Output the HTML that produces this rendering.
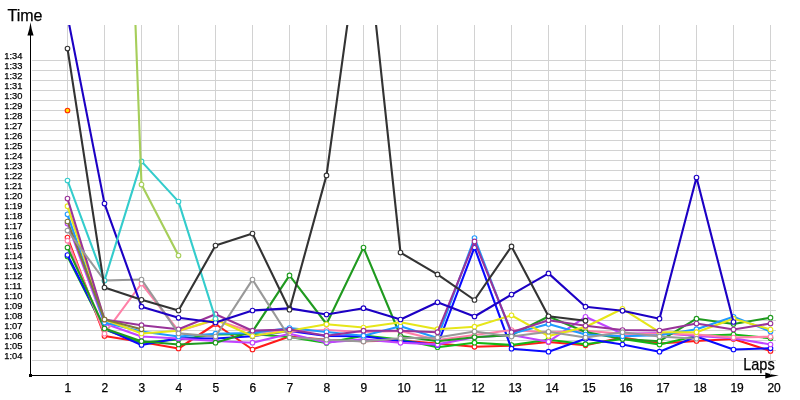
<!DOCTYPE html>
<html><head><meta charset="utf-8"><title>Lap times</title>
<style>
html,body{margin:0;padding:0;background:#fff;}
body{width:800px;height:400px;overflow:hidden;}
svg{display:block;}
text{font-family:"Liberation Sans","DejaVu Sans",sans-serif;fill:#000;stroke:#000;stroke-width:0.25;}
.g line{stroke:#d2d2d2;stroke-width:1;shape-rendering:crispEdges;}
.s polyline{fill:none;stroke-width:2.1;stroke-linejoin:round;stroke-linecap:round;}
.s circle{stroke-width:1.1;}
</style></head><body>
<svg width="800" height="400" viewBox="0 0 800 400">
<defs><clipPath id="c"><rect x="31" y="25" width="760" height="350"/></clipPath></defs>
<rect width="800" height="400" fill="#fff"/>
<g class="g">
<line x1="32" y1="60.5" x2="776" y2="60.5"/>
<line x1="32" y1="70.5" x2="776" y2="70.5"/>
<line x1="32" y1="80.5" x2="776" y2="80.5"/>
<line x1="32" y1="90.5" x2="776" y2="90.5"/>
<line x1="32" y1="100.5" x2="776" y2="100.5"/>
<line x1="32" y1="110.5" x2="776" y2="110.5"/>
<line x1="32" y1="120.5" x2="776" y2="120.5"/>
<line x1="32" y1="130.5" x2="776" y2="130.5"/>
<line x1="32" y1="140.5" x2="776" y2="140.5"/>
<line x1="32" y1="150.5" x2="776" y2="150.5"/>
<line x1="32" y1="160.5" x2="776" y2="160.5"/>
<line x1="32" y1="170.5" x2="776" y2="170.5"/>
<line x1="32" y1="180.5" x2="776" y2="180.5"/>
<line x1="32" y1="190.5" x2="776" y2="190.5"/>
<line x1="32" y1="200.5" x2="776" y2="200.5"/>
<line x1="32" y1="210.5" x2="776" y2="210.5"/>
<line x1="32" y1="220.5" x2="776" y2="220.5"/>
<line x1="32" y1="230.5" x2="776" y2="230.5"/>
<line x1="32" y1="240.5" x2="776" y2="240.5"/>
<line x1="32" y1="250.5" x2="776" y2="250.5"/>
<line x1="32" y1="260.5" x2="776" y2="260.5"/>
<line x1="32" y1="270.5" x2="776" y2="270.5"/>
<line x1="32" y1="280.5" x2="776" y2="280.5"/>
<line x1="32" y1="290.5" x2="776" y2="290.5"/>
<line x1="32" y1="300.5" x2="776" y2="300.5"/>
<line x1="32" y1="310.5" x2="776" y2="310.5"/>
<line x1="32" y1="320.5" x2="776" y2="320.5"/>
<line x1="32" y1="330.5" x2="776" y2="330.5"/>
<line x1="32" y1="340.5" x2="776" y2="340.5"/>
<line x1="32" y1="350.5" x2="776" y2="350.5"/>
<line x1="32" y1="360.5" x2="776" y2="360.5"/>
<line x1="67.5" y1="25" x2="67.5" y2="375"/>
<line x1="104.5" y1="25" x2="104.5" y2="375"/>
<line x1="141.5" y1="25" x2="141.5" y2="375"/>
<line x1="178.5" y1="25" x2="178.5" y2="375"/>
<line x1="215.5" y1="25" x2="215.5" y2="375"/>
<line x1="252.5" y1="25" x2="252.5" y2="375"/>
<line x1="289.5" y1="25" x2="289.5" y2="375"/>
<line x1="326.5" y1="25" x2="326.5" y2="375"/>
<line x1="363.5" y1="25" x2="363.5" y2="375"/>
<line x1="400.5" y1="25" x2="400.5" y2="375"/>
<line x1="437.5" y1="25" x2="437.5" y2="375"/>
<line x1="474.5" y1="25" x2="474.5" y2="375"/>
<line x1="511.5" y1="25" x2="511.5" y2="375"/>
<line x1="548.5" y1="25" x2="548.5" y2="375"/>
<line x1="585.5" y1="25" x2="585.5" y2="375"/>
<line x1="622.5" y1="25" x2="622.5" y2="375"/>
<line x1="659.5" y1="25" x2="659.5" y2="375"/>
<line x1="696.5" y1="25" x2="696.5" y2="375"/>
<line x1="733.5" y1="25" x2="733.5" y2="375"/>
<line x1="770.5" y1="25" x2="770.5" y2="375"/>
</g>
<g class="s" clip-path="url(#c)">
<g stroke="#ff1a1a">
<polyline points="67.5,237.5 104.5,336.0 141.5,342.0 178.5,348.5 215.5,324.0 252.5,349.5 289.5,336.5 326.5,339.7 363.5,341.3 400.5,340.5 437.5,343.5 474.5,346.8 511.5,345.7 548.5,342.0 585.5,345.3 622.5,337.5 659.5,343.5 696.5,341.0 733.5,339.0 770.5,351.0"/>
<circle cx="67.5" cy="237.5" r="2.3" fill="#fff" stroke="#ff1a1a"/>
<circle cx="104.5" cy="336.0" r="2.3" fill="#fff" stroke="#ff1a1a"/>
<circle cx="141.5" cy="342.0" r="2.3" fill="#fff" stroke="#ff1a1a"/>
<circle cx="178.5" cy="348.5" r="2.3" fill="#fff" stroke="#ff1a1a"/>
<circle cx="215.5" cy="324.0" r="2.3" fill="#fff" stroke="#ff1a1a"/>
<circle cx="252.5" cy="349.5" r="2.3" fill="#fff" stroke="#ff1a1a"/>
<circle cx="289.5" cy="336.5" r="2.3" fill="#fff" stroke="#ff1a1a"/>
<circle cx="326.5" cy="339.7" r="2.3" fill="#fff" stroke="#ff1a1a"/>
<circle cx="363.5" cy="341.3" r="2.3" fill="#fff" stroke="#ff1a1a"/>
<circle cx="400.5" cy="340.5" r="2.3" fill="#fff" stroke="#ff1a1a"/>
<circle cx="437.5" cy="343.5" r="2.3" fill="#fff" stroke="#ff1a1a"/>
<circle cx="474.5" cy="346.8" r="2.3" fill="#fff" stroke="#ff1a1a"/>
<circle cx="511.5" cy="345.7" r="2.3" fill="#fff" stroke="#ff1a1a"/>
<circle cx="548.5" cy="342.0" r="2.3" fill="#fff" stroke="#ff1a1a"/>
<circle cx="585.5" cy="345.3" r="2.3" fill="#fff" stroke="#ff1a1a"/>
<circle cx="622.5" cy="337.5" r="2.3" fill="#fff" stroke="#ff1a1a"/>
<circle cx="659.5" cy="343.5" r="2.3" fill="#fff" stroke="#ff1a1a"/>
<circle cx="696.5" cy="341.0" r="2.3" fill="#fff" stroke="#ff1a1a"/>
<circle cx="733.5" cy="339.0" r="2.3" fill="#fff" stroke="#ff1a1a"/>
<circle cx="770.5" cy="351.0" r="2.3" fill="#fff" stroke="#ff1a1a"/>
</g>
<g stroke="#14b814">
<polyline points="67.5,256.5 104.5,329.5 141.5,342.5 178.5,339.5 215.5,334.5 252.5,334.0 289.5,337.0 326.5,343.0 363.5,335.6 400.5,339.5 437.5,347.2 474.5,342.7 511.5,345.0 548.5,339.7 585.5,344.2 622.5,339.0 659.5,344.5 696.5,336.0 733.5,334.5 770.5,338.2"/>
<circle cx="67.5" cy="256.5" r="2.3" fill="#fff" stroke="#14b814"/>
<circle cx="104.5" cy="329.5" r="2.3" fill="#fff" stroke="#14b814"/>
<circle cx="141.5" cy="342.5" r="2.3" fill="#fff" stroke="#14b814"/>
<circle cx="178.5" cy="339.5" r="2.3" fill="#fff" stroke="#14b814"/>
<circle cx="215.5" cy="334.5" r="2.3" fill="#fff" stroke="#14b814"/>
<circle cx="252.5" cy="334.0" r="2.3" fill="#fff" stroke="#14b814"/>
<circle cx="289.5" cy="337.0" r="2.3" fill="#fff" stroke="#14b814"/>
<circle cx="326.5" cy="343.0" r="2.3" fill="#fff" stroke="#14b814"/>
<circle cx="363.5" cy="335.6" r="2.3" fill="#fff" stroke="#14b814"/>
<circle cx="400.5" cy="339.5" r="2.3" fill="#fff" stroke="#14b814"/>
<circle cx="437.5" cy="347.2" r="2.3" fill="#fff" stroke="#14b814"/>
<circle cx="474.5" cy="342.7" r="2.3" fill="#fff" stroke="#14b814"/>
<circle cx="511.5" cy="345.0" r="2.3" fill="#fff" stroke="#14b814"/>
<circle cx="548.5" cy="339.7" r="2.3" fill="#fff" stroke="#14b814"/>
<circle cx="585.5" cy="344.2" r="2.3" fill="#fff" stroke="#14b814"/>
<circle cx="622.5" cy="339.0" r="2.3" fill="#fff" stroke="#14b814"/>
<circle cx="659.5" cy="344.5" r="2.3" fill="#fff" stroke="#14b814"/>
<circle cx="696.5" cy="336.0" r="2.3" fill="#fff" stroke="#14b814"/>
<circle cx="733.5" cy="334.5" r="2.3" fill="#fff" stroke="#14b814"/>
<circle cx="770.5" cy="338.2" r="2.3" fill="#fff" stroke="#14b814"/>
</g>
<g stroke="#0a0aff">
<polyline points="67.5,255.0 104.5,328.5 141.5,345.0 178.5,338.3 215.5,338.5 252.5,336.2 289.5,331.0 326.5,336.0 363.5,336.3 400.5,341.0 437.5,345.0 474.5,247.4 511.5,348.7 548.5,351.7 585.5,338.7 622.5,344.5 659.5,351.7 696.5,336.5 733.5,349.5 770.5,348.3"/>
<circle cx="67.5" cy="255.0" r="2.3" fill="#fff" stroke="#0a0aff"/>
<circle cx="104.5" cy="328.5" r="2.3" fill="#fff" stroke="#0a0aff"/>
<circle cx="141.5" cy="345.0" r="2.3" fill="#fff" stroke="#0a0aff"/>
<circle cx="178.5" cy="338.3" r="2.3" fill="#fff" stroke="#0a0aff"/>
<circle cx="215.5" cy="338.5" r="2.3" fill="#fff" stroke="#0a0aff"/>
<circle cx="252.5" cy="336.2" r="2.3" fill="#fff" stroke="#0a0aff"/>
<circle cx="289.5" cy="331.0" r="2.3" fill="#fff" stroke="#0a0aff"/>
<circle cx="326.5" cy="336.0" r="2.3" fill="#fff" stroke="#0a0aff"/>
<circle cx="363.5" cy="336.3" r="2.3" fill="#fff" stroke="#0a0aff"/>
<circle cx="400.5" cy="341.0" r="2.3" fill="#fff" stroke="#0a0aff"/>
<circle cx="437.5" cy="345.0" r="2.3" fill="#fff" stroke="#0a0aff"/>
<circle cx="474.5" cy="247.4" r="2.3" fill="#fff" stroke="#0a0aff"/>
<circle cx="511.5" cy="348.7" r="2.3" fill="#fff" stroke="#0a0aff"/>
<circle cx="548.5" cy="351.7" r="2.3" fill="#fff" stroke="#0a0aff"/>
<circle cx="585.5" cy="338.7" r="2.3" fill="#fff" stroke="#0a0aff"/>
<circle cx="622.5" cy="344.5" r="2.3" fill="#fff" stroke="#0a0aff"/>
<circle cx="659.5" cy="351.7" r="2.3" fill="#fff" stroke="#0a0aff"/>
<circle cx="696.5" cy="336.5" r="2.3" fill="#fff" stroke="#0a0aff"/>
<circle cx="733.5" cy="349.5" r="2.3" fill="#fff" stroke="#0a0aff"/>
<circle cx="770.5" cy="348.3" r="2.3" fill="#fff" stroke="#0a0aff"/>
</g>
<g stroke="#c044ff">
<polyline points="67.5,223.5 104.5,323.5 141.5,336.5 178.5,338.5 215.5,341.0 252.5,342.7 289.5,333.7 326.5,342.5 363.5,339.4 400.5,342.8 437.5,344.4 474.5,337.2 511.5,335.0 548.5,341.7 585.5,316.8 622.5,333.7 659.5,333.0 696.5,336.0 733.5,338.2 770.5,344.5"/>
<circle cx="67.5" cy="223.5" r="2.3" fill="#fff" stroke="#c044ff"/>
<circle cx="104.5" cy="323.5" r="2.3" fill="#fff" stroke="#c044ff"/>
<circle cx="141.5" cy="336.5" r="2.3" fill="#fff" stroke="#c044ff"/>
<circle cx="178.5" cy="338.5" r="2.3" fill="#fff" stroke="#c044ff"/>
<circle cx="215.5" cy="341.0" r="2.3" fill="#fff" stroke="#c044ff"/>
<circle cx="252.5" cy="342.7" r="2.3" fill="#fff" stroke="#c044ff"/>
<circle cx="289.5" cy="333.7" r="2.3" fill="#fff" stroke="#c044ff"/>
<circle cx="326.5" cy="342.5" r="2.3" fill="#fff" stroke="#c044ff"/>
<circle cx="363.5" cy="339.4" r="2.3" fill="#fff" stroke="#c044ff"/>
<circle cx="400.5" cy="342.8" r="2.3" fill="#fff" stroke="#c044ff"/>
<circle cx="437.5" cy="344.4" r="2.3" fill="#fff" stroke="#c044ff"/>
<circle cx="474.5" cy="337.2" r="2.3" fill="#fff" stroke="#c044ff"/>
<circle cx="511.5" cy="335.0" r="2.3" fill="#fff" stroke="#c044ff"/>
<circle cx="548.5" cy="341.7" r="2.3" fill="#fff" stroke="#c044ff"/>
<circle cx="585.5" cy="316.8" r="2.3" fill="#fff" stroke="#c044ff"/>
<circle cx="622.5" cy="333.7" r="2.3" fill="#fff" stroke="#c044ff"/>
<circle cx="659.5" cy="333.0" r="2.3" fill="#fff" stroke="#c044ff"/>
<circle cx="696.5" cy="336.0" r="2.3" fill="#fff" stroke="#c044ff"/>
<circle cx="733.5" cy="338.2" r="2.3" fill="#fff" stroke="#c044ff"/>
<circle cx="770.5" cy="344.5" r="2.3" fill="#fff" stroke="#c044ff"/>
</g>
<g stroke="#ff80a8">
<polyline points="67.5,240.7 104.5,333.7 141.5,283.5 178.5,331.0 215.5,320.0 252.5,332.0 289.5,331.5 326.5,330.0 363.5,332.0 400.5,331.0 437.5,340.0 474.5,335.0 511.5,330.0 548.5,332.5 585.5,330.7 622.5,333.7 659.5,333.7 696.5,334.5 733.5,337.5 770.5,336.7"/>
<circle cx="67.5" cy="240.7" r="2.3" fill="#fff" stroke="#ff80a8"/>
<circle cx="104.5" cy="333.7" r="2.3" fill="#fff" stroke="#ff80a8"/>
<circle cx="141.5" cy="283.5" r="2.3" fill="#fff" stroke="#ff80a8"/>
<circle cx="178.5" cy="331.0" r="2.3" fill="#fff" stroke="#ff80a8"/>
<circle cx="215.5" cy="320.0" r="2.3" fill="#fff" stroke="#ff80a8"/>
<circle cx="252.5" cy="332.0" r="2.3" fill="#fff" stroke="#ff80a8"/>
<circle cx="289.5" cy="331.5" r="2.3" fill="#fff" stroke="#ff80a8"/>
<circle cx="326.5" cy="330.0" r="2.3" fill="#fff" stroke="#ff80a8"/>
<circle cx="363.5" cy="332.0" r="2.3" fill="#fff" stroke="#ff80a8"/>
<circle cx="400.5" cy="331.0" r="2.3" fill="#fff" stroke="#ff80a8"/>
<circle cx="437.5" cy="340.0" r="2.3" fill="#fff" stroke="#ff80a8"/>
<circle cx="474.5" cy="335.0" r="2.3" fill="#fff" stroke="#ff80a8"/>
<circle cx="511.5" cy="330.0" r="2.3" fill="#fff" stroke="#ff80a8"/>
<circle cx="548.5" cy="332.5" r="2.3" fill="#fff" stroke="#ff80a8"/>
<circle cx="585.5" cy="330.7" r="2.3" fill="#fff" stroke="#ff80a8"/>
<circle cx="622.5" cy="333.7" r="2.3" fill="#fff" stroke="#ff80a8"/>
<circle cx="659.5" cy="333.7" r="2.3" fill="#fff" stroke="#ff80a8"/>
<circle cx="696.5" cy="334.5" r="2.3" fill="#fff" stroke="#ff80a8"/>
<circle cx="733.5" cy="337.5" r="2.3" fill="#fff" stroke="#ff80a8"/>
<circle cx="770.5" cy="336.7" r="2.3" fill="#fff" stroke="#ff80a8"/>
</g>
<g stroke="#1f9a1f">
<polyline points="67.5,247.5 104.5,328.5 141.5,341.2 178.5,344.5 215.5,342.7 252.5,331.5 289.5,275.4 326.5,324.0 363.5,247.6 400.5,336.0 437.5,341.2 474.5,337.2 511.5,335.0 548.5,316.5 585.5,332.0 622.5,339.0 659.5,341.2 696.5,318.7 733.5,324.0 770.5,317.7"/>
<circle cx="67.5" cy="247.5" r="2.3" fill="#fff" stroke="#1f9a1f"/>
<circle cx="104.5" cy="328.5" r="2.3" fill="#fff" stroke="#1f9a1f"/>
<circle cx="141.5" cy="341.2" r="2.3" fill="#fff" stroke="#1f9a1f"/>
<circle cx="178.5" cy="344.5" r="2.3" fill="#fff" stroke="#1f9a1f"/>
<circle cx="215.5" cy="342.7" r="2.3" fill="#fff" stroke="#1f9a1f"/>
<circle cx="252.5" cy="331.5" r="2.3" fill="#fff" stroke="#1f9a1f"/>
<circle cx="289.5" cy="275.4" r="2.3" fill="#fff" stroke="#1f9a1f"/>
<circle cx="326.5" cy="324.0" r="2.3" fill="#fff" stroke="#1f9a1f"/>
<circle cx="363.5" cy="247.6" r="2.3" fill="#fff" stroke="#1f9a1f"/>
<circle cx="400.5" cy="336.0" r="2.3" fill="#fff" stroke="#1f9a1f"/>
<circle cx="437.5" cy="341.2" r="2.3" fill="#fff" stroke="#1f9a1f"/>
<circle cx="474.5" cy="337.2" r="2.3" fill="#fff" stroke="#1f9a1f"/>
<circle cx="511.5" cy="335.0" r="2.3" fill="#fff" stroke="#1f9a1f"/>
<circle cx="548.5" cy="316.5" r="2.3" fill="#fff" stroke="#1f9a1f"/>
<circle cx="585.5" cy="332.0" r="2.3" fill="#fff" stroke="#1f9a1f"/>
<circle cx="622.5" cy="339.0" r="2.3" fill="#fff" stroke="#1f9a1f"/>
<circle cx="659.5" cy="341.2" r="2.3" fill="#fff" stroke="#1f9a1f"/>
<circle cx="696.5" cy="318.7" r="2.3" fill="#fff" stroke="#1f9a1f"/>
<circle cx="733.5" cy="324.0" r="2.3" fill="#fff" stroke="#1f9a1f"/>
<circle cx="770.5" cy="317.7" r="2.3" fill="#fff" stroke="#1f9a1f"/>
</g>
<g stroke="#1e9aff">
<polyline points="67.5,214.3 104.5,322.5 141.5,331.5 178.5,336.5 215.5,333.7 252.5,333.0 289.5,328.0 326.5,332.0 363.5,335.7 400.5,326.2 437.5,338.0 474.5,238.0 511.5,333.7 548.5,324.0 585.5,334.5 622.5,336.3 659.5,335.2 696.5,329.2 733.5,316.8 770.5,331.5"/>
<circle cx="67.5" cy="214.3" r="2.3" fill="#fff" stroke="#1e9aff"/>
<circle cx="104.5" cy="322.5" r="2.3" fill="#fff" stroke="#1e9aff"/>
<circle cx="141.5" cy="331.5" r="2.3" fill="#fff" stroke="#1e9aff"/>
<circle cx="178.5" cy="336.5" r="2.3" fill="#fff" stroke="#1e9aff"/>
<circle cx="215.5" cy="333.7" r="2.3" fill="#fff" stroke="#1e9aff"/>
<circle cx="252.5" cy="333.0" r="2.3" fill="#fff" stroke="#1e9aff"/>
<circle cx="289.5" cy="328.0" r="2.3" fill="#fff" stroke="#1e9aff"/>
<circle cx="326.5" cy="332.0" r="2.3" fill="#fff" stroke="#1e9aff"/>
<circle cx="363.5" cy="335.7" r="2.3" fill="#fff" stroke="#1e9aff"/>
<circle cx="400.5" cy="326.2" r="2.3" fill="#fff" stroke="#1e9aff"/>
<circle cx="437.5" cy="338.0" r="2.3" fill="#fff" stroke="#1e9aff"/>
<circle cx="474.5" cy="238.0" r="2.3" fill="#fff" stroke="#1e9aff"/>
<circle cx="511.5" cy="333.7" r="2.3" fill="#fff" stroke="#1e9aff"/>
<circle cx="548.5" cy="324.0" r="2.3" fill="#fff" stroke="#1e9aff"/>
<circle cx="585.5" cy="334.5" r="2.3" fill="#fff" stroke="#1e9aff"/>
<circle cx="622.5" cy="336.3" r="2.3" fill="#fff" stroke="#1e9aff"/>
<circle cx="659.5" cy="335.2" r="2.3" fill="#fff" stroke="#1e9aff"/>
<circle cx="696.5" cy="329.2" r="2.3" fill="#fff" stroke="#1e9aff"/>
<circle cx="733.5" cy="316.8" r="2.3" fill="#fff" stroke="#1e9aff"/>
<circle cx="770.5" cy="331.5" r="2.3" fill="#fff" stroke="#1e9aff"/>
</g>
<g stroke="#e6e619">
<polyline points="67.5,206.2 104.5,319.5 141.5,333.5 178.5,330.7 215.5,319.5 252.5,336.0 289.5,330.7 326.5,324.3 363.5,327.5 400.5,322.2 437.5,329.2 474.5,326.7 511.5,315.3 548.5,336.0 585.5,327.0 622.5,308.8 659.5,332.2 696.5,332.2 733.5,318.7 770.5,329.5"/>
<circle cx="67.5" cy="206.2" r="2.3" fill="#fff" stroke="#e6e619"/>
<circle cx="104.5" cy="319.5" r="2.3" fill="#fff" stroke="#e6e619"/>
<circle cx="141.5" cy="333.5" r="2.3" fill="#fff" stroke="#e6e619"/>
<circle cx="178.5" cy="330.7" r="2.3" fill="#fff" stroke="#e6e619"/>
<circle cx="215.5" cy="319.5" r="2.3" fill="#fff" stroke="#e6e619"/>
<circle cx="252.5" cy="336.0" r="2.3" fill="#fff" stroke="#e6e619"/>
<circle cx="289.5" cy="330.7" r="2.3" fill="#fff" stroke="#e6e619"/>
<circle cx="326.5" cy="324.3" r="2.3" fill="#fff" stroke="#e6e619"/>
<circle cx="363.5" cy="327.5" r="2.3" fill="#fff" stroke="#e6e619"/>
<circle cx="400.5" cy="322.2" r="2.3" fill="#fff" stroke="#e6e619"/>
<circle cx="437.5" cy="329.2" r="2.3" fill="#fff" stroke="#e6e619"/>
<circle cx="474.5" cy="326.7" r="2.3" fill="#fff" stroke="#e6e619"/>
<circle cx="511.5" cy="315.3" r="2.3" fill="#fff" stroke="#e6e619"/>
<circle cx="548.5" cy="336.0" r="2.3" fill="#fff" stroke="#e6e619"/>
<circle cx="585.5" cy="327.0" r="2.3" fill="#fff" stroke="#e6e619"/>
<circle cx="622.5" cy="308.8" r="2.3" fill="#fff" stroke="#e6e619"/>
<circle cx="659.5" cy="332.2" r="2.3" fill="#fff" stroke="#e6e619"/>
<circle cx="696.5" cy="332.2" r="2.3" fill="#fff" stroke="#e6e619"/>
<circle cx="733.5" cy="318.7" r="2.3" fill="#fff" stroke="#e6e619"/>
<circle cx="770.5" cy="329.5" r="2.3" fill="#fff" stroke="#e6e619"/>
</g>
<g stroke="#993399">
<polyline points="67.5,198.5 104.5,319.5 141.5,325.2 178.5,329.3 215.5,314.2 252.5,330.7 289.5,329.5 326.5,335.7 363.5,330.7 400.5,330.7 437.5,332.2 474.5,241.4 511.5,332.2 548.5,320.2 585.5,325.8 622.5,330.0 659.5,330.5 696.5,323.5 733.5,329.5 770.5,323.5"/>
<circle cx="67.5" cy="198.5" r="2.3" fill="#fff" stroke="#993399"/>
<circle cx="104.5" cy="319.5" r="2.3" fill="#fff" stroke="#993399"/>
<circle cx="141.5" cy="325.2" r="2.3" fill="#fff" stroke="#993399"/>
<circle cx="178.5" cy="329.3" r="2.3" fill="#fff" stroke="#993399"/>
<circle cx="215.5" cy="314.2" r="2.3" fill="#fff" stroke="#993399"/>
<circle cx="252.5" cy="330.7" r="2.3" fill="#fff" stroke="#993399"/>
<circle cx="289.5" cy="329.5" r="2.3" fill="#fff" stroke="#993399"/>
<circle cx="326.5" cy="335.7" r="2.3" fill="#fff" stroke="#993399"/>
<circle cx="363.5" cy="330.7" r="2.3" fill="#fff" stroke="#993399"/>
<circle cx="400.5" cy="330.7" r="2.3" fill="#fff" stroke="#993399"/>
<circle cx="437.5" cy="332.2" r="2.3" fill="#fff" stroke="#993399"/>
<circle cx="474.5" cy="241.4" r="2.3" fill="#fff" stroke="#993399"/>
<circle cx="511.5" cy="332.2" r="2.3" fill="#fff" stroke="#993399"/>
<circle cx="548.5" cy="320.2" r="2.3" fill="#fff" stroke="#993399"/>
<circle cx="585.5" cy="325.8" r="2.3" fill="#fff" stroke="#993399"/>
<circle cx="622.5" cy="330.0" r="2.3" fill="#fff" stroke="#993399"/>
<circle cx="659.5" cy="330.5" r="2.3" fill="#fff" stroke="#993399"/>
<circle cx="696.5" cy="323.5" r="2.3" fill="#fff" stroke="#993399"/>
<circle cx="733.5" cy="329.5" r="2.3" fill="#fff" stroke="#993399"/>
<circle cx="770.5" cy="323.5" r="2.3" fill="#fff" stroke="#993399"/>
</g>
<g stroke="#80783c">
<polyline points="67.5,221.5 104.5,319.5 141.5,329.3"/>
<circle cx="67.5" cy="221.5" r="2.3" fill="#fff" stroke="#80783c"/>
<circle cx="104.5" cy="319.5" r="2.3" fill="#fff" stroke="#80783c"/>
<circle cx="141.5" cy="329.3" r="2.3" fill="#fff" stroke="#80783c"/>
</g>
<g stroke="#999999">
<polyline points="67.5,230.5 104.5,280.5 141.5,279.5 178.5,333.4 215.5,336.5 252.5,279.6 289.5,337.5 326.5,339.7 363.5,341.5 400.5,338.2 437.5,337.5 474.5,331.5 511.5,336.5 548.5,331.8 585.5,337.5 622.5,332.2 659.5,336.5 696.5,338.7"/>
<circle cx="67.5" cy="230.5" r="2.3" fill="#fff" stroke="#999999"/>
<circle cx="104.5" cy="280.5" r="2.3" fill="#fff" stroke="#999999"/>
<circle cx="141.5" cy="279.5" r="2.3" fill="#fff" stroke="#999999"/>
<circle cx="178.5" cy="333.4" r="2.3" fill="#fff" stroke="#999999"/>
<circle cx="215.5" cy="336.5" r="2.3" fill="#fff" stroke="#999999"/>
<circle cx="252.5" cy="279.6" r="2.3" fill="#fff" stroke="#999999"/>
<circle cx="289.5" cy="337.5" r="2.3" fill="#fff" stroke="#999999"/>
<circle cx="326.5" cy="339.7" r="2.3" fill="#fff" stroke="#999999"/>
<circle cx="363.5" cy="341.5" r="2.3" fill="#fff" stroke="#999999"/>
<circle cx="400.5" cy="338.2" r="2.3" fill="#fff" stroke="#999999"/>
<circle cx="437.5" cy="337.5" r="2.3" fill="#fff" stroke="#999999"/>
<circle cx="474.5" cy="331.5" r="2.3" fill="#fff" stroke="#999999"/>
<circle cx="511.5" cy="336.5" r="2.3" fill="#fff" stroke="#999999"/>
<circle cx="548.5" cy="331.8" r="2.3" fill="#fff" stroke="#999999"/>
<circle cx="585.5" cy="337.5" r="2.3" fill="#fff" stroke="#999999"/>
<circle cx="622.5" cy="332.2" r="2.3" fill="#fff" stroke="#999999"/>
<circle cx="659.5" cy="336.5" r="2.3" fill="#fff" stroke="#999999"/>
<circle cx="696.5" cy="338.7" r="2.3" fill="#fff" stroke="#999999"/>
</g>
<g stroke="#1c00c4">
<polyline points="67.5,16.0 104.5,203.6 141.5,306.7 178.5,317.8 215.5,322.5 252.5,310.5 289.5,308.4 326.5,314.5 363.5,308.2 400.5,319.5 437.5,302.3 474.5,316.5 511.5,294.6 548.5,273.4 585.5,306.7 622.5,310.8 659.5,318.7 696.5,177.6 733.5,322.0"/>
<circle cx="104.5" cy="203.6" r="2.3" fill="#fff" stroke="#1c00c4"/>
<circle cx="141.5" cy="306.7" r="2.3" fill="#fff" stroke="#1c00c4"/>
<circle cx="178.5" cy="317.8" r="2.3" fill="#fff" stroke="#1c00c4"/>
<circle cx="215.5" cy="322.5" r="2.3" fill="#fff" stroke="#1c00c4"/>
<circle cx="252.5" cy="310.5" r="2.3" fill="#fff" stroke="#1c00c4"/>
<circle cx="289.5" cy="308.4" r="2.3" fill="#fff" stroke="#1c00c4"/>
<circle cx="326.5" cy="314.5" r="2.3" fill="#fff" stroke="#1c00c4"/>
<circle cx="363.5" cy="308.2" r="2.3" fill="#fff" stroke="#1c00c4"/>
<circle cx="400.5" cy="319.5" r="2.3" fill="#fff" stroke="#1c00c4"/>
<circle cx="437.5" cy="302.3" r="2.3" fill="#fff" stroke="#1c00c4"/>
<circle cx="474.5" cy="316.5" r="2.3" fill="#fff" stroke="#1c00c4"/>
<circle cx="511.5" cy="294.6" r="2.3" fill="#fff" stroke="#1c00c4"/>
<circle cx="548.5" cy="273.4" r="2.3" fill="#fff" stroke="#1c00c4"/>
<circle cx="585.5" cy="306.7" r="2.3" fill="#fff" stroke="#1c00c4"/>
<circle cx="622.5" cy="310.8" r="2.3" fill="#fff" stroke="#1c00c4"/>
<circle cx="659.5" cy="318.7" r="2.3" fill="#fff" stroke="#1c00c4"/>
<circle cx="696.5" cy="177.6" r="2.3" fill="#fff" stroke="#1c00c4"/>
<circle cx="733.5" cy="322.0" r="2.3" fill="#fff" stroke="#1c00c4"/>
</g>
<g stroke="#33cccc">
<polyline points="67.5,180.5 104.5,280.5 141.5,161.4 178.5,201.6 215.5,318.7"/>
<circle cx="67.5" cy="180.5" r="2.3" fill="#fff" stroke="#33cccc"/>
<circle cx="104.5" cy="280.5" r="2.3" fill="#fff" stroke="#33cccc"/>
<circle cx="141.5" cy="161.4" r="2.3" fill="#fff" stroke="#33cccc"/>
<circle cx="178.5" cy="201.6" r="2.3" fill="#fff" stroke="#33cccc"/>
<circle cx="215.5" cy="318.7" r="2.3" fill="#fff" stroke="#33cccc"/>
</g>
<g stroke="#333333">
<polyline points="67.5,48.6 104.5,287.6 141.5,299.8 178.5,310.5 215.5,245.6 252.5,233.6 289.5,309.7 326.5,175.4 363.5,-92.0 400.5,252.6 437.5,274.4 474.5,300.0 511.5,246.4 548.5,316.3 585.5,320.7"/>
<circle cx="67.5" cy="48.6" r="2.3" fill="#fff" stroke="#333333"/>
<circle cx="104.5" cy="287.6" r="2.3" fill="#fff" stroke="#333333"/>
<circle cx="141.5" cy="299.8" r="2.3" fill="#fff" stroke="#333333"/>
<circle cx="178.5" cy="310.5" r="2.3" fill="#fff" stroke="#333333"/>
<circle cx="215.5" cy="245.6" r="2.3" fill="#fff" stroke="#333333"/>
<circle cx="252.5" cy="233.6" r="2.3" fill="#fff" stroke="#333333"/>
<circle cx="289.5" cy="309.7" r="2.3" fill="#fff" stroke="#333333"/>
<circle cx="326.5" cy="175.4" r="2.3" fill="#fff" stroke="#333333"/>
<circle cx="400.5" cy="252.6" r="2.3" fill="#fff" stroke="#333333"/>
<circle cx="437.5" cy="274.4" r="2.3" fill="#fff" stroke="#333333"/>
<circle cx="474.5" cy="300.0" r="2.3" fill="#fff" stroke="#333333"/>
<circle cx="511.5" cy="246.4" r="2.3" fill="#fff" stroke="#333333"/>
<circle cx="548.5" cy="316.3" r="2.3" fill="#fff" stroke="#333333"/>
<circle cx="585.5" cy="320.7" r="2.3" fill="#fff" stroke="#333333"/>
</g>
<g stroke="#a6ce5a">
<polyline points="67.5,-500.0 104.5,-797.0 141.5,184.6 178.5,255.6"/>
<circle cx="141.5" cy="184.6" r="2.3" fill="#fff" stroke="#a6ce5a"/>
<circle cx="178.5" cy="255.6" r="2.3" fill="#fff" stroke="#a6ce5a"/>
</g>
<g stroke="#ff2a00">
<circle cx="67.5" cy="110.5" r="2.3" fill="#ffe600" stroke="#ff2a00"/>
</g>
</g>
<g fill="#000" shape-rendering="crispEdges"><rect x="30" y="30" width="1" height="346"/><rect x="30" y="375" width="740" height="1"/><rect x="29" y="374" width="3" height="3"/></g>
<path d="M30.5 22.3 Q31.4 29.5 33.6 35.5 L27.4 35.5 Q29.6 29.5 30.5 22.3 Z" fill="#000"/>
<path d="M778.8 375.5 Q771.5 376.4 765.3 378.6 L765.3 372.4 Q771.5 374.6 778.8 375.5 Z" fill="#000"/>
<line x1="770.5" y1="371" x2="770.5" y2="375" stroke="#d2d2d2" stroke-opacity="0.6" stroke-width="1"/>
<text x="7.5" y="20.7" font-size="16">Time</text>
<text x="743.2" y="370.3" font-size="16.4" textLength="31.5" lengthAdjust="spacingAndGlyphs">Laps</text>
<text x="4.3" y="59.0" font-size="9.3">1:34</text>
<text x="4.3" y="69.0" font-size="9.3">1:33</text>
<text x="4.3" y="79.0" font-size="9.3">1:32</text>
<text x="4.3" y="89.0" font-size="9.3">1:31</text>
<text x="4.3" y="99.0" font-size="9.3">1:30</text>
<text x="4.3" y="109.0" font-size="9.3">1:29</text>
<text x="4.3" y="119.0" font-size="9.3">1:28</text>
<text x="4.3" y="129.0" font-size="9.3">1:27</text>
<text x="4.3" y="139.0" font-size="9.3">1:26</text>
<text x="4.3" y="149.0" font-size="9.3">1:25</text>
<text x="4.3" y="159.0" font-size="9.3">1:24</text>
<text x="4.3" y="169.0" font-size="9.3">1:23</text>
<text x="4.3" y="179.0" font-size="9.3">1:22</text>
<text x="4.3" y="189.0" font-size="9.3">1:21</text>
<text x="4.3" y="199.0" font-size="9.3">1:20</text>
<text x="4.3" y="209.0" font-size="9.3">1:19</text>
<text x="4.3" y="219.0" font-size="9.3">1:18</text>
<text x="4.3" y="229.0" font-size="9.3">1:17</text>
<text x="4.3" y="239.0" font-size="9.3">1:16</text>
<text x="4.3" y="249.0" font-size="9.3">1:15</text>
<text x="4.3" y="259.0" font-size="9.3">1:14</text>
<text x="4.3" y="269.0" font-size="9.3">1:13</text>
<text x="4.3" y="279.0" font-size="9.3">1:12</text>
<text x="4.3" y="289.0" font-size="9.3">1:11</text>
<text x="4.3" y="299.0" font-size="9.3">1:10</text>
<text x="4.3" y="309.0" font-size="9.3">1:09</text>
<text x="4.3" y="319.0" font-size="9.3">1:08</text>
<text x="4.3" y="329.0" font-size="9.3">1:07</text>
<text x="4.3" y="339.0" font-size="9.3">1:06</text>
<text x="4.3" y="349.0" font-size="9.3">1:05</text>
<text x="4.3" y="359.0" font-size="9.3">1:04</text>
<text x="64.4" y="392.2" font-size="12">1</text>
<text x="101.4" y="392.2" font-size="12">2</text>
<text x="138.4" y="392.2" font-size="12">3</text>
<text x="175.4" y="392.2" font-size="12">4</text>
<text x="212.4" y="392.2" font-size="12">5</text>
<text x="249.4" y="392.2" font-size="12">6</text>
<text x="286.4" y="392.2" font-size="12">7</text>
<text x="323.4" y="392.2" font-size="12">8</text>
<text x="360.4" y="392.2" font-size="12">9</text>
<text x="397.4" y="392.2" font-size="12">10</text>
<text x="434.4" y="392.2" font-size="12">11</text>
<text x="471.4" y="392.2" font-size="12">12</text>
<text x="508.4" y="392.2" font-size="12">13</text>
<text x="545.4" y="392.2" font-size="12">14</text>
<text x="582.4" y="392.2" font-size="12">15</text>
<text x="619.4" y="392.2" font-size="12">16</text>
<text x="656.4" y="392.2" font-size="12">17</text>
<text x="693.4" y="392.2" font-size="12">18</text>
<text x="730.4" y="392.2" font-size="12">19</text>
<text x="767.4" y="392.2" font-size="12">20</text>
</svg></body></html>
